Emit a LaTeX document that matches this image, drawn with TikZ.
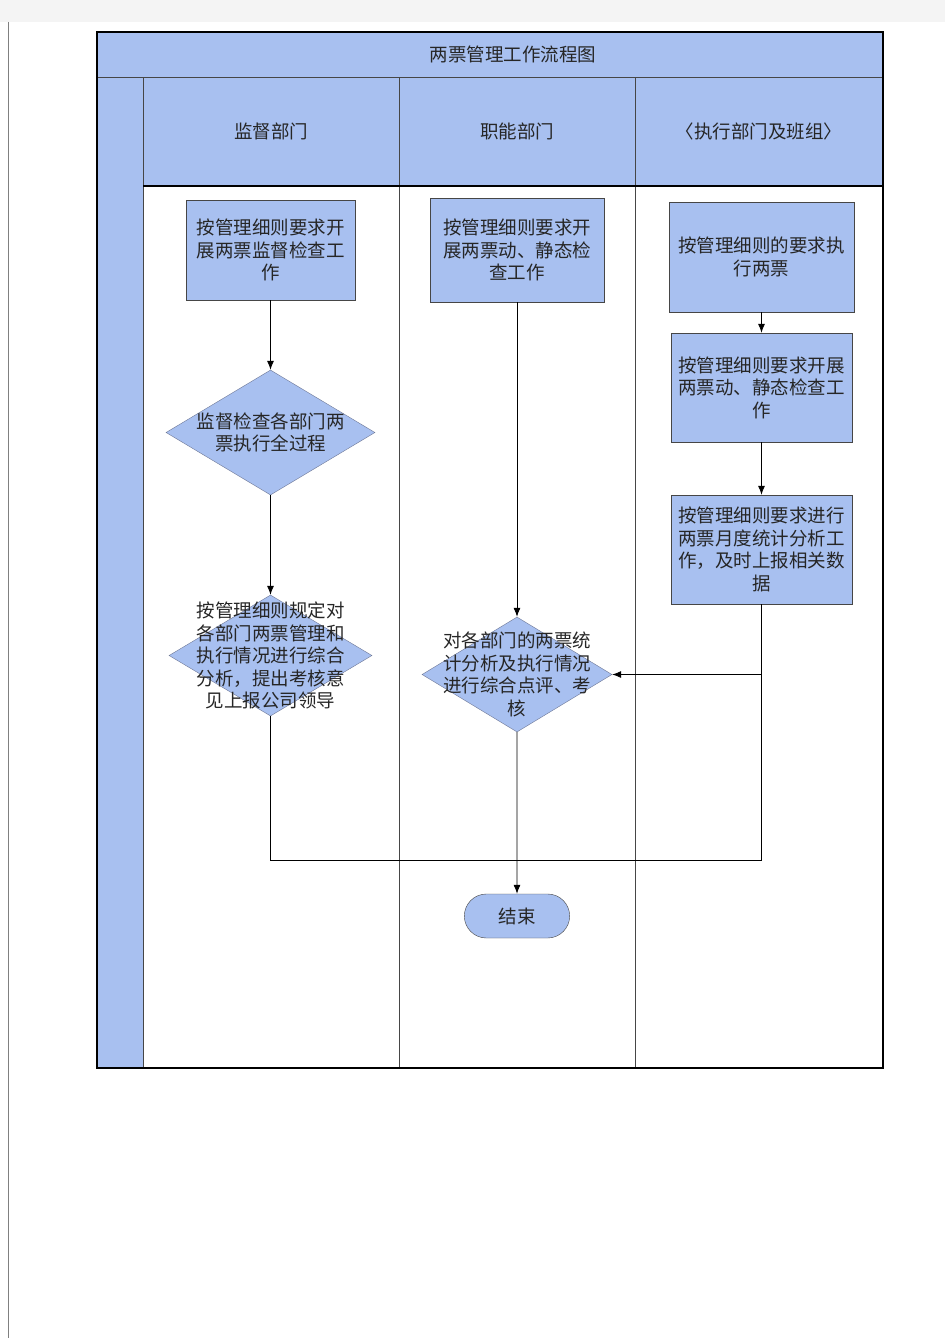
\documentclass[tikz,border=0pt]{standalone}
\usepackage{fontspec}
\newfontfamily\cjk{Noto Sans CJK SC}
\usetikzlibrary{shapes.geometric, shapes.misc, arrows.meta, positioning}
\definecolor{lane}{RGB}{168,192,240}
\definecolor{pagegray}{RGB}{244,244,244}
\definecolor{edgegray}{RGB}{70,70,70}
\definecolor{diagray}{RGB}{110,120,150}

\begin{document}
\begin{tikzpicture}[x=1pt, y=-1pt, node distance=150pt,
    every node/.style={font=\cjk\fontsize{18.5}{22.5}\selectfont, text=black!85},
    task/.style={draw=edgegray, fill=lane, rectangle, align=center, inner sep=0pt},
    check/.style={draw=diagray, fill=lane, diamond, inner sep=0pt},
    finish/.style={draw=edgegray, fill=lane, rounded rectangle, minimum width=112pt, minimum height=44pt},
    flow/.style={-{Latex[length=9pt,width=7pt]}, line width=0.8pt}]

    % page and lanes
    \useasboundingbox (0,0) rectangle (945,1338);
    \fill[white] (0,0) rectangle (945,1338);
    \fill[pagegray] (0,0) rectangle (945,22);
    \draw[gray] (8,22) -- (8,1338);
    \fill[lane] (97,32) rectangle (883,77);
    \fill[lane] (97,77) rectangle (143,1068);
    \fill[lane] (143,77) rectangle (883,186);
    \draw[edgegray] (97,77) -- (883,77);
    \draw[edgegray] (143,77) -- (143,1068);
    \draw[edgegray] (399,77) -- (399,1068);
    \draw[edgegray] (635,77) -- (635,1068);
    \draw[black, line width=1.5pt] (143,186) -- (883,186);
    \draw[black, line width=2pt] (97,32) rectangle (883,1068);

    \node (title) at (513,54) {两票管理工作流程图};
    \node (supv) at (271,131) {监督部门};
    \node (func) at (517,131) {职能部门};
    \node (exec) at (759,131) {〈执行部门及班组〉};

    % supervision lane
    \node[task, minimum width=169pt, minimum height=100pt] (sup1) at (270.5,250) {按管理细则要求开\\展两票监督检查工\\作};
    \node[check, minimum width=209pt, minimum height=125pt, node distance=182.5pt, below of=sup1,
        label={[align=center]center:{监督检查各部门两\\票执行全过程}}] (sup2) {};
    \node[check, minimum width=203pt, minimum height=121pt, node distance=223pt, below of=sup2,
        label={[align=center]center:{按管理细则规定对\\各部门两票管理和\\执行情况进行综合\\分析，提出考核意\\见上报公司领导}}] (sup3) {};

    % functional lane
    \node[task, minimum width=174pt, minimum height=104pt] (func1) at (517,250) {按管理细则要求开\\展两票动、静态检\\查工作};
    \node[check, minimum width=190pt, minimum height=115pt, node distance=424.5pt, below of=func1,
        label={[align=center]center:{对各部门的两票统\\计分析及执行情况\\进行综合点评、考\\核}}] (func2) {};
    \node[finish, node distance=241.5pt, below of=func2] (done) {结束};

    % execution lane
    \node[task, minimum width=185pt, minimum height=110pt] (exe1) at (761.5,257) {按管理细则的要求执\\行两票};
    \node[task, minimum width=181pt, minimum height=109pt, node distance=130.5pt, below of=exe1] (exe2) {按管理细则要求开展\\两票动、静态检查工\\作};
    \node[task, minimum width=181pt, minimum height=109pt, node distance=162pt, below of=exe2] (exe3) {按管理细则要求进行\\两票月度统计分析工\\作，及时上报相关数\\据};

    \coordinate (join) at (761.5,860);

    % connectors
    \draw[flow] (sup1) -- (sup2);
    \draw[flow] (sup2) -- (sup3);
    \draw[flow] (func1) -- (func2);
    \draw[flow] (exe1) -- (exe2);
    \draw[flow] (exe2) -- (exe3);
    \draw[flow] (exe3.south) |- (func2.east);
    \draw[line width=0.8pt] (sup3.south) |- (join);
    \draw[line width=0.8pt] (exe3.south) -- (join);
    \draw[flow] (func2) -- (done);
\end{tikzpicture}
\end{document}
